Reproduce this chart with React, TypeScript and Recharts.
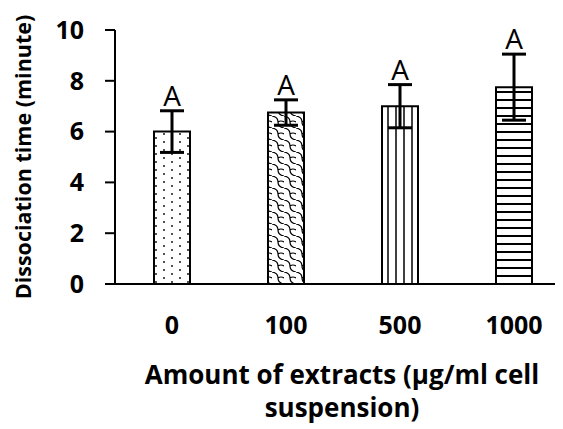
import React from 'react';
import { BarChart, Bar, XAxis, YAxis, ErrorBar, Cell, LabelList } from 'recharts';

const categories = ['0', '100', '500', '1000'];
const means = [6.0, 6.75, 7.0, 7.75];
const errors = [0.82, 0.5, 0.85, 1.3];
const letters = ['A', 'A', 'A', 'A'];
const yTicks = [0, 2, 4, 6, 8, 10];
const patternIds = ['pDots', 'pShingle', 'pVert', 'pHoriz'];

const data = categories.map((c, i) => ({ name: c, value: means[i], err: errors[i], letter: letters[i] }));

const FONT = '"Open Sans", sans-serif';

const LetterLabel = (props: any) => {
  const { x, y, width, height, index } = props;
  const d = data[index];
  const ppu = height / d.value;
  const top = y - d.err * ppu;
  return (
    <text x={x + width / 2} y={top - 5} textAnchor="middle" fontFamily={FONT} fontSize={28} fill="#000">
      {d.letter}
    </text>
  );
};

const XTitle = (props: any) => {
  const { viewBox } = props;
  const cx = viewBox.x + viewBox.width / 2 - 1;
  return (
    <text textAnchor="middle" fontFamily={FONT} fontWeight="bold" fontSize={26} fill="#000">
      <tspan x={cx} y={viewBox.y + 100}>Amount of extracts (µg/ml cell</tspan>
      <tspan x={cx} y={viewBox.y + 133}>suspension)</tspan>
    </text>
  );
};

const YTitle = (props: any) => {
  const { viewBox } = props;
  const cx = 23;
  const cy = viewBox.y + viewBox.height / 2;
  return (
    <text x={cx} y={cy} transform={`rotate(-90 ${cx} ${cy})`} textAnchor="middle" fontFamily={FONT} fontWeight="bold" fontSize={21.5} fill="#000">
      Dissociation time (minute)
    </text>
  );
};

export default function App() {
  return (
    <div style={{ width: 555, height: 421, overflow: 'hidden', background: '#fff' }}>
      <BarChart width={570} height={421} data={data} margin={{ top: 22, right: 7, bottom: 85, left: 0 }}>
        <defs>
          <pattern id="pDots" patternUnits="userSpaceOnUse" width={16} height={8}>
            <rect width={16} height={8} fill="#fff" />
            <circle cx={4} cy={2} r={0.9} fill="#000" />
            <circle cx={12} cy={6} r={0.9} fill="#000" />
          </pattern>
          <pattern id="pShingle" patternUnits="userSpaceOnUse" width={12} height={12}>
            <rect width={12} height={12} fill="#fff" />
            <path d="M0 0 Q 6 1 6 6 Q 6 11 12 12 M6 6 Q 9 4 12 6" stroke="#000" strokeWidth={1.2} fill="none" />
          </pattern>
          <pattern id="pVert" patternUnits="userSpaceOnUse" width={8} height={8}>
            <rect width={8} height={8} fill="#fff" />
            <line x1={4} y1={0} x2={4} y2={8} stroke="#000" strokeWidth={1.5} />
          </pattern>
          <pattern id="pHoriz" patternUnits="userSpaceOnUse" width={8} height={8}>
            <rect width={8} height={8} fill="#fff" />
            <line x1={0} y1={4} x2={8} y2={4} stroke="#000" strokeWidth={2} />
          </pattern>
        </defs>
        <XAxis
          dataKey="name"
          axisLine={{ stroke: '#000', strokeWidth: 2 }}
          tickLine={false}
          tickSize={6}
          tickMargin={26}
          height={60}
          tick={{ fill: '#000', fontSize: 25, fontWeight: 'bold', fontFamily: FONT }}
          label={<XTitle />}
        />
        <YAxis
          domain={[0, 10]}
          ticks={yTicks}
          width={107}
          axisLine={{ stroke: '#000', strokeWidth: 2 }}
          tickLine={{ stroke: '#000', strokeWidth: 2 }}
          tickSize={10}
          tickMargin={21}
          tick={{ fill: '#000', fontSize: 25, fontWeight: 'bold', fontFamily: FONT }}
          label={<YTitle />}
        />
        <Bar dataKey="value" barSize={36} stroke="#000" strokeWidth={2} isAnimationActive={false}>
          {data.map((d, i) => (
            <Cell key={d.name} fill={`url(#${patternIds[i]})`} />
          ))}
          <ErrorBar dataKey="err" width={12} strokeWidth={3} stroke="#000" direction="y" />
          <LabelList dataKey="letter" content={<LetterLabel />} />
        </Bar>
      </BarChart>
    </div>
  );
}
